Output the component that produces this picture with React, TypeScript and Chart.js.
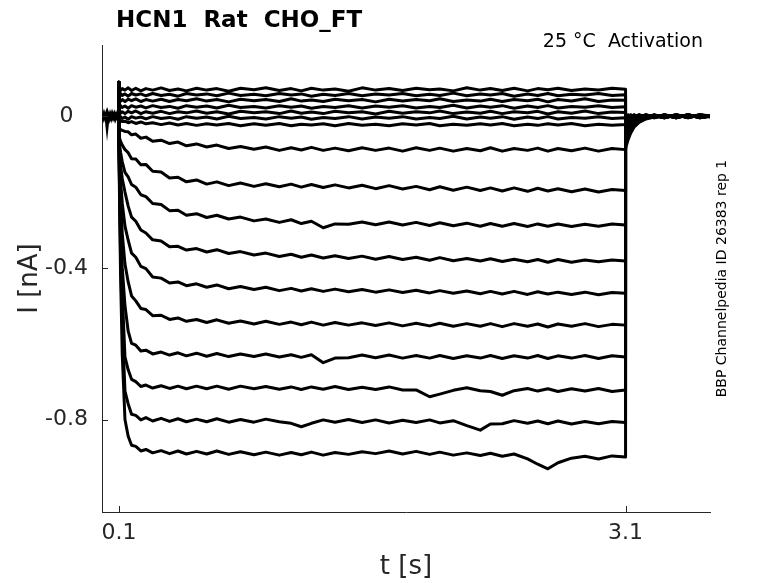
import { useEffect, useRef } from "react"
import { Chart, registerables, type ChartConfiguration, type Plugin } from "chart.js"

Chart.register(...registerables)

// time axis of the recording [s]
const baseTimes = [0, 0.006, 0.012, 0.018, 0.024, 0.03, 0.036, 0.042, 0.048, 0.054, 0.06, 0.066, 0.072, 0.078, 0.084, 0.09, 0.0995]
const baseValues = [0.004, -0.004, 0.005, -0.003, 0.004, -0.022, 0.003, -0.005, 0.004, -0.004, 0.005, -0.003, 0.004, -0.005, 0.003, -0.004, 0]

const spikeTime = 0.0995
const spikeValue = 0.09

const stepTimes = [
  0.1, 0.104, 0.11, 0.12, 0.136, 0.155, 0.175, 0.2, 0.23, 0.26,
  0.3, 0.35, 0.4, 0.45, 0.5, 0.56, 0.62, 0.68, 0.75, 0.82,
  0.9, 0.97, 1.05, 1.12, 1.18, 1.24, 1.31, 1.38, 1.46, 1.54,
  1.62, 1.7, 1.78, 1.86, 1.94, 2.0, 2.08, 2.16, 2.24, 2.3,
  2.37, 2.44, 2.52, 2.58, 2.64, 2.7, 2.78, 2.86, 2.94, 3.02,
  3.1,
]
const tailTimes = [3.1, 3.105, 3.115, 3.13, 3.15, 3.18, 3.22, 3.27, 3.33, 3.4, 3.47, 3.54, 3.6]

// current during the step [nA], one array per sweep, top to bottom
const sweep01 = [0.071,0.074,0.068,0.073,0.069,0.075,0.068,0.074,0.067,0.073,0.069,0.075,0.068,0.072,0.067,0.074,0.069,0.073,0.066,0.074,0.070,0.075,0.068,0.073,0.067,0.074,0.069,0.072,0.066,0.075,0.069,0.073,0.068,0.074,0.070,0.072,0.067,0.075,0.069,0.073,0.068,0.074,0.067,0.073,0.070,0.074,0.068,0.072,0.069,0.074,0.071]
const sweep02 = [0.057,0.054,0.060,0.055,0.059,0.053,0.060,0.056,0.059,0.054,0.060,0.055,0.058,0.053,0.060,0.056,0.059,0.054,0.061,0.055,0.058,0.054,0.060,0.056,0.059,0.053,0.058,0.055,0.060,0.054,0.059,0.056,0.060,0.054,0.058,0.055,0.061,0.054,0.059,0.056,0.060,0.053,0.059,0.055,0.060,0.054,0.058,0.056,0.060,0.055,0.057]
const sweep03 = [0.042,0.045,0.040,0.044,0.039,0.045,0.041,0.046,0.039,0.044,0.040,0.045,0.039,0.044,0.041,0.046,0.040,0.044,0.038,0.045,0.041,0.044,0.039,0.046,0.040,0.043,0.039,0.045,0.041,0.044,0.038,0.045,0.040,0.044,0.041,0.046,0.039,0.043,0.040,0.045,0.039,0.044,0.041,0.045,0.038,0.044,0.040,0.046,0.039,0.043,0.042]
const sweep04 = [0.025,0.022,0.028,0.023,0.027,0.021,0.028,0.024,0.027,0.022,0.028,0.023,0.026,0.021,0.028,0.024,0.027,0.022,0.029,0.023,0.026,0.022,0.028,0.024,0.027,0.021,0.026,0.023,0.028,0.022,0.027,0.024,0.028,0.022,0.026,0.023,0.029,0.022,0.027,0.024,0.028,0.021,0.027,0.023,0.028,0.022,0.026,0.024,0.028,0.023,0.025]
const sweep05 = [0.010,0.013,0.008,0.012,0.007,0.013,0.009,0.014,0.007,0.012,0.008,0.013,0.007,0.012,0.009,0.014,0.008,0.012,0.006,0.013,0.009,0.012,0.007,0.014,0.008,0.011,0.007,0.013,0.009,0.012,0.006,0.013,0.008,0.012,0.009,0.014,0.007,0.011,0.008,0.013,0.007,0.012,0.009,0.013,0.006,0.012,0.008,0.014,0.007,0.011,0.010]
const sweep06 = [-0.004,-0.007,-0.001,-0.006,-0.002,-0.008,-0.001,-0.005,-0.002,-0.007,-0.001,-0.006,-0.003,-0.008,-0.001,-0.005,-0.002,-0.007,0.000,-0.006,-0.003,-0.007,-0.001,-0.005,-0.002,-0.008,-0.003,-0.006,-0.001,-0.007,-0.002,-0.005,-0.001,-0.007,-0.003,-0.006,0.000,-0.007,-0.002,-0.005,-0.001,-0.008,-0.002,-0.006,-0.001,-0.007,-0.003,-0.005,-0.001,-0.006,-0.004]
const sweep07 = [-0.012,-0.013,-0.012,-0.014,-0.013,-0.017,-0.014,-0.019,-0.015,-0.020,-0.017,-0.022,-0.018,-0.023,-0.019,-0.024,-0.020,-0.023,-0.019,-0.025,-0.020,-0.024,-0.019,-0.025,-0.021,-0.023,-0.020,-0.025,-0.019,-0.024,-0.021,-0.025,-0.020,-0.023,-0.019,-0.025,-0.021,-0.024,-0.020,-0.023,-0.019,-0.025,-0.021,-0.024,-0.020,-0.023,-0.019,-0.025,-0.021,-0.024,-0.022]
const sweep08 = [-0.030,-0.033,-0.035,-0.037,-0.040,-0.041,-0.049,-0.047,-0.058,-0.055,-0.066,-0.063,-0.072,-0.068,-0.078,-0.073,-0.081,-0.076,-0.085,-0.080,-0.087,-0.081,-0.090,-0.083,-0.089,-0.082,-0.090,-0.084,-0.091,-0.083,-0.090,-0.084,-0.092,-0.083,-0.090,-0.084,-0.092,-0.085,-0.091,-0.083,-0.092,-0.085,-0.090,-0.084,-0.092,-0.085,-0.091,-0.084,-0.092,-0.085,-0.088]
const sweep09 = [-0.050,-0.058,-0.066,-0.076,-0.088,-0.096,-0.112,-0.113,-0.128,-0.127,-0.145,-0.147,-0.163,-0.161,-0.173,-0.168,-0.179,-0.173,-0.183,-0.176,-0.185,-0.178,-0.186,-0.179,-0.187,-0.180,-0.188,-0.181,-0.189,-0.182,-0.191,-0.183,-0.192,-0.185,-0.194,-0.186,-0.195,-0.187,-0.196,-0.189,-0.197,-0.189,-0.198,-0.190,-0.197,-0.191,-0.199,-0.192,-0.200,-0.193,-0.196]
const sweep10 = [-0.060,-0.075,-0.095,-0.120,-0.148,-0.160,-0.180,-0.187,-0.207,-0.212,-0.230,-0.233,-0.249,-0.248,-0.261,-0.257,-0.267,-0.261,-0.271,-0.266,-0.276,-0.271,-0.280,-0.273,-0.283,-0.277,-0.294,-0.284,-0.285,-0.279,-0.286,-0.279,-0.287,-0.280,-0.288,-0.281,-0.289,-0.282,-0.290,-0.283,-0.290,-0.283,-0.291,-0.284,-0.290,-0.284,-0.291,-0.285,-0.290,-0.284,-0.287]
const sweep11 = [-0.060,-0.090,-0.130,-0.165,-0.200,-0.237,-0.266,-0.277,-0.300,-0.308,-0.326,-0.329,-0.344,-0.343,-0.353,-0.349,-0.358,-0.352,-0.362,-0.357,-0.366,-0.361,-0.370,-0.364,-0.372,-0.366,-0.374,-0.368,-0.375,-0.369,-0.377,-0.370,-0.378,-0.372,-0.380,-0.373,-0.381,-0.375,-0.382,-0.376,-0.383,-0.377,-0.384,-0.378,-0.385,-0.378,-0.385,-0.379,-0.384,-0.379,-0.382]
const sweep12 = [-0.060,-0.110,-0.170,-0.230,-0.290,-0.327,-0.361,-0.372,-0.396,-0.402,-0.424,-0.427,-0.440,-0.437,-0.447,-0.442,-0.451,-0.445,-0.455,-0.449,-0.457,-0.451,-0.460,-0.454,-0.461,-0.455,-0.462,-0.456,-0.463,-0.457,-0.464,-0.458,-0.465,-0.459,-0.466,-0.460,-0.467,-0.461,-0.468,-0.462,-0.469,-0.462,-0.470,-0.463,-0.469,-0.464,-0.470,-0.464,-0.471,-0.465,-0.467]
const sweep13 = [-0.060,-0.130,-0.220,-0.310,-0.390,-0.437,-0.474,-0.487,-0.507,-0.510,-0.526,-0.525,-0.536,-0.532,-0.541,-0.536,-0.544,-0.537,-0.546,-0.540,-0.548,-0.541,-0.549,-0.543,-0.550,-0.543,-0.551,-0.544,-0.551,-0.545,-0.552,-0.545,-0.553,-0.546,-0.553,-0.546,-0.554,-0.547,-0.554,-0.547,-0.555,-0.547,-0.554,-0.548,-0.556,-0.548,-0.554,-0.547,-0.555,-0.549,-0.551]
const sweep14 = [-0.060,-0.160,-0.280,-0.400,-0.500,-0.567,-0.599,-0.604,-0.619,-0.617,-0.627,-0.622,-0.630,-0.624,-0.632,-0.625,-0.633,-0.626,-0.634,-0.627,-0.634,-0.627,-0.635,-0.629,-0.636,-0.629,-0.650,-0.638,-0.637,-0.630,-0.637,-0.630,-0.638,-0.631,-0.638,-0.631,-0.639,-0.632,-0.638,-0.631,-0.639,-0.632,-0.638,-0.631,-0.639,-0.632,-0.638,-0.631,-0.639,-0.632,-0.635]
const sweep15 = [-0.060,-0.180,-0.320,-0.470,-0.635,-0.669,-0.694,-0.700,-0.713,-0.709,-0.717,-0.711,-0.718,-0.712,-0.719,-0.712,-0.719,-0.712,-0.720,-0.712,-0.719,-0.713,-0.720,-0.714,-0.721,-0.714,-0.720,-0.713,-0.721,-0.715,-0.721,-0.714,-0.722,-0.722,-0.740,-0.733,-0.723,-0.716,-0.724,-0.726,-0.736,-0.724,-0.718,-0.725,-0.719,-0.726,-0.719,-0.725,-0.718,-0.726,-0.722]
const sweep16 = [-0.060,-0.200,-0.370,-0.550,-0.725,-0.759,-0.786,-0.789,-0.801,-0.795,-0.804,-0.797,-0.805,-0.798,-0.806,-0.799,-0.806,-0.798,-0.807,-0.800,-0.807,-0.799,-0.806,-0.810,-0.819,-0.810,-0.801,-0.807,-0.800,-0.808,-0.801,-0.809,-0.802,-0.808,-0.801,-0.809,-0.803,-0.816,-0.828,-0.812,-0.811,-0.803,-0.810,-0.804,-0.811,-0.804,-0.812,-0.805,-0.811,-0.805,-0.808]
const sweep17 = [-0.060,-0.230,-0.420,-0.630,-0.800,-0.844,-0.868,-0.871,-0.883,-0.879,-0.888,-0.882,-0.890,-0.883,-0.891,-0.884,-0.891,-0.883,-0.892,-0.885,-0.893,-0.886,-0.894,-0.887,-0.893,-0.886,-0.894,-0.887,-0.892,-0.885,-0.890,-0.883,-0.891,-0.884,-0.892,-0.886,-0.894,-0.888,-0.895,-0.889,-0.897,-0.891,-0.904,-0.918,-0.930,-0.914,-0.902,-0.897,-0.904,-0.896,-0.899]

// tail currents after the step [nA]
const tail01 = [-0.004,-0.002,0.004,-0.003,0.003,-0.004,0.004,-0.003,0.003,-0.004,0.003,-0.003,0.001]
const tail02 = [-0.005,-0.003,0.002,-0.004,0.004,-0.003,0.003,-0.004,0.004,-0.003,0.004,-0.004,0.000]
const tail03 = [-0.006,-0.004,-0.001,0.004,-0.003,0.004,-0.004,0.003,-0.003,0.004,-0.004,0.003,-0.001]
const tail04 = [-0.008,-0.006,-0.002,0.003,-0.004,0.003,-0.003,0.004,-0.004,0.003,-0.003,0.004,0.001]
const tail05 = [-0.010,-0.008,-0.004,0.001,-0.003,0.004,-0.003,0.003,-0.004,0.004,-0.003,0.003,-0.002]
const tail06 = [-0.012,-0.010,-0.006,-0.002,0.003,-0.004,0.003,-0.003,0.004,-0.003,0.003,-0.004,0.002]
const tail07 = [-0.015,-0.013,-0.009,-0.004,0.001,-0.003,0.004,-0.003,0.003,-0.004,0.004,-0.003,0.000]
const tail08 = [-0.020,-0.018,-0.013,-0.008,-0.003,0.001,-0.003,0.003,-0.004,0.003,-0.003,0.004,-0.001]
const tail09 = [-0.028,-0.025,-0.019,-0.013,-0.007,-0.002,0.003,-0.003,0.003,-0.004,0.003,-0.003,0.001]
const tail10 = [-0.036,-0.032,-0.025,-0.017,-0.010,-0.004,0.000,-0.004,0.003,-0.003,0.004,-0.003,0.000]
const tail11 = [-0.044,-0.040,-0.031,-0.021,-0.012,-0.005,-0.001,0.003,-0.003,0.004,-0.003,0.003,-0.001]
const tail12 = [-0.052,-0.047,-0.037,-0.026,-0.015,-0.007,-0.002,0.001,-0.003,0.003,-0.004,0.003,0.001]
const tail13 = [-0.060,-0.054,-0.043,-0.030,-0.018,-0.009,-0.003,0.000,-0.004,0.003,-0.003,0.004,-0.001]
const tail14 = [-0.066,-0.060,-0.048,-0.034,-0.021,-0.011,-0.004,0.001,-0.003,0.003,-0.003,0.003,0.000]
const tail15 = [-0.072,-0.065,-0.052,-0.037,-0.023,-0.012,-0.005,-0.001,0.003,-0.004,0.003,-0.003,0.001]
const tail16 = [-0.078,-0.071,-0.057,-0.041,-0.026,-0.014,-0.006,-0.001,0.003,-0.003,0.004,-0.004,0.000]
const tail17 = [-0.085,-0.077,-0.062,-0.045,-0.029,-0.016,-0.007,-0.002,0.001,-0.003,0.003,-0.003,0.001]

const sweeps = [sweep01, sweep02, sweep03, sweep04, sweep05, sweep06, sweep07, sweep08, sweep09, sweep10, sweep11, sweep12, sweep13, sweep14, sweep15, sweep16, sweep17]
const tails = [tail01, tail02, tail03, tail04, tail05, tail06, tail07, tail08, tail09, tail10, tail11, tail12, tail13, tail14, tail15, tail16, tail17]

const xTicks = [0.1, 3.1]
const yTicks = [0, -0.4, -0.8]

const FONT = "'DejaVu Sans', sans-serif"
const AXIS_COLOR = "#262626"

const decorations: Plugin<"line"> = {
  id: "decorations",
  afterDraw(chart) {
    const { ctx, chartArea, scales } = chart
    const xs = scales.x
    const ys = scales.y
    ctx.save()

    // inward tick marks, MATLAB style
    ctx.strokeStyle = AXIS_COLOR
    ctx.lineWidth = 1
    ctx.beginPath()
    xTicks.forEach((v) => {
      const px = Math.round(xs.getPixelForValue(v)) + 0.5
      ctx.moveTo(px, chartArea.bottom)
      ctx.lineTo(px, chartArea.bottom - 6)
    })
    yTicks.forEach((v) => {
      const py = Math.round(ys.getPixelForValue(v)) + 0.5
      ctx.moveTo(chartArea.left, py)
      ctx.lineTo(chartArea.left + 6, py)
    })
    ctx.stroke()

    // title
    ctx.fillStyle = "#000"
    ctx.textAlign = "left"
    ctx.textBaseline = "alphabetic"
    ctx.font = `bold 23px ${FONT}`
    ctx.fillText("HCN1  Rat  CHO_FT", chartArea.left + 14, 27)

    ctx.font = `19px ${FONT}`
    ctx.textAlign = "right"
    ctx.fillText("25 °C  Activation", chartArea.right - 7, 47)

    // axis titles
    ctx.fillStyle = AXIS_COLOR
    ctx.font = `26px ${FONT}`
    ctx.textAlign = "center"
    ctx.textBaseline = "middle"
    ctx.fillText("t [s]", (chartArea.left + chartArea.right) / 2, 567)

    ctx.save()
    ctx.translate(30, (chartArea.top + chartArea.bottom) / 2)
    ctx.rotate(-Math.PI / 2)
    ctx.fillText("I [nA]", 0, 0)
    ctx.restore()

    // side note
    ctx.save()
    ctx.fillStyle = "#000"
    ctx.font = `14px ${FONT}`
    ctx.translate(chartArea.right + 12, (chartArea.top + chartArea.bottom) / 2)
    ctx.rotate(-Math.PI / 2)
    ctx.fillText("BBP Channelpedia ID 26383 rep 1", 0, 0)
    ctx.restore()

    ctx.restore()
  },
}

export default function App() {
  const chartRef = useRef<HTMLCanvasElement>(null)
  const chartInstance = useRef<Chart | null>(null)

  useEffect(() => {
    document.body.style.margin = "0"
    if (!chartRef.current) return
    const ctx = chartRef.current.getContext("2d")
    if (!ctx) return

    if (chartInstance.current) {
      chartInstance.current.destroy()
    }

    const baseline = {
      data: baseTimes.map((t, i) => ({ x: t, y: baseValues[i] })),
      borderColor: "#000",
      borderWidth: 3.5,
    }

    const sweepSets = sweeps.map((values, i) => ({
      data: [
        { x: spikeTime, y: spikeValue },
        ...stepTimes.map((t, k) => ({ x: t, y: values[k] })),
        ...tailTimes.map((t, k) => ({ x: t, y: tails[i][k] })),
      ],
      borderColor: "#000",
      borderWidth: 3,
      borderJoinStyle: "round" as const,
    }))

    const config: ChartConfiguration<"line"> = {
      type: "line",
      data: {
        datasets: [baseline, ...sweepSets],
      },
      options: {
        responsive: false,
        animation: false,
        layout: {
          padding: { top: 45, right: 68, left: 0, bottom: 0 },
        },
        elements: {
          point: { radius: 0 },
          line: { tension: 0 },
        },
        scales: {
          x: {
            type: "linear",
            min: 0,
            max: 3.6,
            grid: { display: false },
            border: { display: true, color: AXIS_COLOR, width: 1 },
            afterBuildTicks: (scale) => {
              scale.ticks = xTicks.map((v) => ({ value: v }))
            },
            afterFit: (scale) => {
              scale.height = 71
            },
            ticks: {
              color: AXIS_COLOR,
              font: { family: FONT, size: 22 },
              padding: 0,
              maxRotation: 0,
              autoSkip: false,
              callback: (v) => String(v),
            },
          },
          y: {
            type: "linear",
            min: -1.044,
            max: 0.188,
            grid: { display: false },
            border: { display: true, color: AXIS_COLOR, width: 1 },
            afterBuildTicks: (scale) => {
              scale.ticks = yTicks.map((v) => ({ value: v }))
            },
            afterFit: (scale) => {
              scale.width = 102
            },
            ticks: {
              color: AXIS_COLOR,
              font: { family: FONT, size: 22 },
              padding: 6,
              crossAlign: "center",
              autoSkip: false,
              callback: (v) => String(v),
            },
          },
        },
        plugins: {
          legend: { display: false },
          tooltip: { enabled: false },
        },
      },
      plugins: [decorations],
    }

    chartInstance.current = new Chart(ctx, config)

    return () => {
      if (chartInstance.current) {
        chartInstance.current.destroy()
        chartInstance.current = null
      }
    }
  }, [])

  return (
    <div style={{ width: 778, height: 583 }}>
      <canvas ref={chartRef} width={778} height={583} />
    </div>
  )
}
